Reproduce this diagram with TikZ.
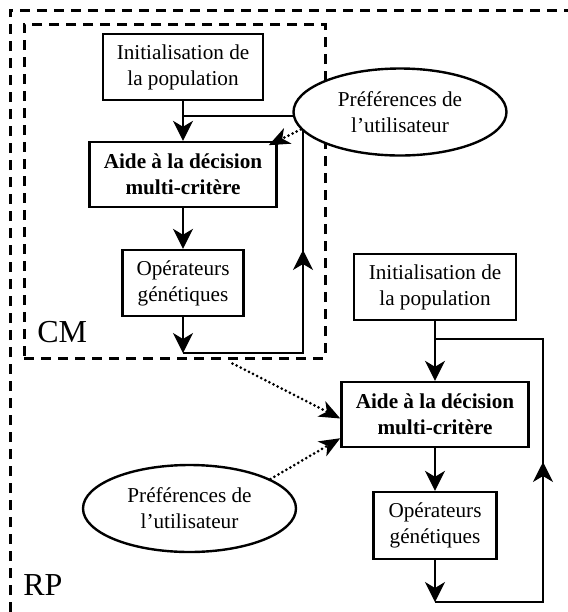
\documentclass[tikz,border=0pt]{standalone}
\usepackage{fontspec}
\setmainfont{Liberation Serif}
\usetikzlibrary{arrows.meta, shapes.geometric, calc}

\tikzset{
  bloc/.style={draw, line width=1.2pt, align=center, inner sep=0pt,
    font=\fontsize{10.6pt}{13pt}\selectfont},
  decision/.style={bloc, minimum width=93.5pt, minimum height=32.5pt,
    font=\fontsize{10.6pt}{13pt}\selectfont\bfseries},
  pref/.style={ellipse, draw, line width=1.2pt, fill=white, align=center,
    inner sep=0pt, minimum width=106.5pt, minimum height=43.5pt,
    font=\fontsize{10.6pt}{13pt}\selectfont},
  cadre/.style={line width=1.5pt, dash pattern=on 5pt off 3.5pt},
  etiquette/.style={anchor=base west, inner sep=0pt, font=\fontsize{16pt}{18pt}\selectfont},
  lien/.style={line width=0.7pt},
  fleche/.style={lien, -{Stealth[length=10pt, width=10pt, inset=3pt]}},
  pointille/.style={line width=1.5pt, line cap=round, dash pattern=on 0pt off 2.3pt,
    -{Stealth[length=10.5pt, width=8.5pt, inset=3pt]}},
}

\begin{document}
\begin{tikzpicture}[x=0.5pt, y=-0.5pt]
    \useasboundingbox (0,0) rectangle (568,612);
    % cadres
    \draw[cadre] (10,612) -- (10,10) -- (568,10);
    \node[cadre, draw, minimum width=150.5pt, minimum height=167pt, inner sep=0pt] (cm) at (174.5,191) {};
    \node[etiquette] (lcm) at (37,342) {CM};
    \node[etiquette] (lrp) at (23,595) {RP};
    % premiere boucle
    \node[bloc, minimum width=80pt, minimum height=33pt] (init1) at (183,67) {Initialisation de\\la population};
    \node[decision] (aide1) at (183,174.5) {Aide à la décision\\multi-critère};
    \node[bloc, minimum width=60.5pt, minimum height=33pt] (op1) at (183,283) {Opérateurs\\génétiques};
    \coordinate (b1) at (183,353);
    \coordinate (r1b) at (303,353);
    \coordinate (m1) at (303,250);
    \coordinate (r1t) at (303,116);
    \coordinate (j1) at (183,116);
    \draw[fleche] (init1) -- (aide1);
    \draw[fleche] (aide1) -- (op1);
    \draw[fleche] (op1) -- (b1);
    \draw[lien] (b1) -- (r1b) -- (r1t) -- (j1);
    \draw[fleche] (r1b) -- (m1);
    % seconde boucle
    \node[bloc, minimum width=81pt, minimum height=33pt] (init2) at (435,287) {Initialisation de\\la population};
    \node[decision] (aide2) at (435,414.5) {Aide à la décision\\multi-critère};
    \node[bloc, minimum width=61.5pt, minimum height=33.5pt] (op2) at (435,525.5) {Opérateurs\\génétiques};
    \coordinate (b2) at (435,602);
    \coordinate (r2b) at (543,602);
    \coordinate (m2) at (543,462);
    \coordinate (r2t) at (543,339);
    \coordinate (j2) at (435,339);
    \draw[fleche] (init2) -- (aide2);
    \draw[fleche] (aide2) -- (op2);
    \draw[fleche] (op2) -- (b2);
    \draw[lien] (b2) -- (r2b) -- (r2t) -- (j2);
    \draw[fleche] (r2b) -- (m2);
    % preferences
    \node[pref] (pref1) at (400,112) {Préférences de\\l’utilisateur};
    \node[pref] (pref2) at (189.5,508.5) {Préférences de\\l’utilisateur};
    \draw[pointille, shorten >=-5pt] (pref1.190) -- (aide1.north east);
    \draw[pointille] ($(cm.south)+(58,4)$) -- ($(aide2.west)+(0,4)$);
    \draw[pointille] (pref2.20) -- ($(aide2.south west)+(0,-10)$);
\end{tikzpicture}
\end{document}
